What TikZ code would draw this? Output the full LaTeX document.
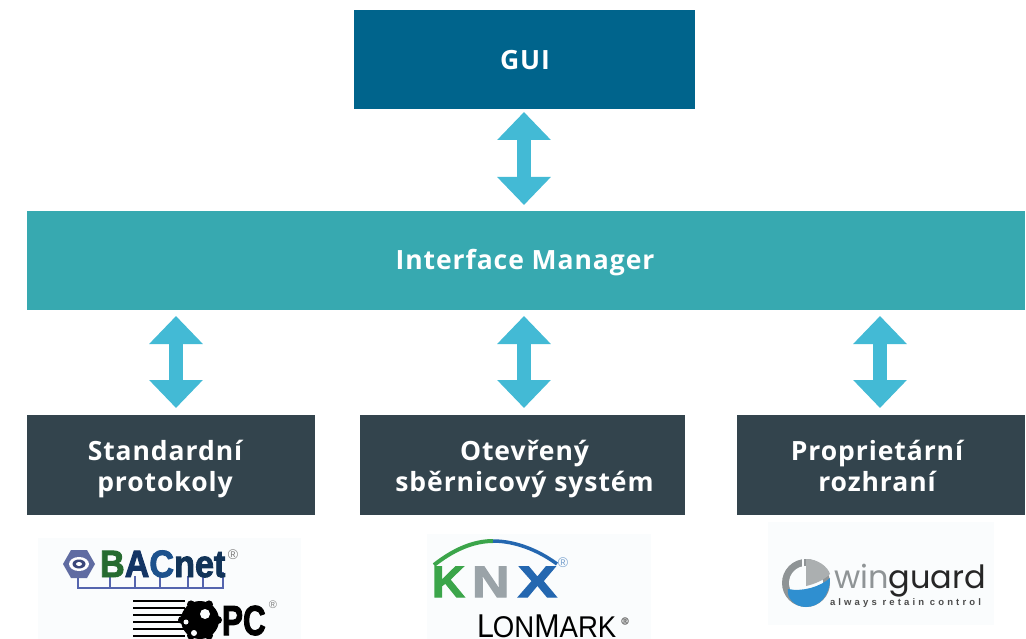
\documentclass[tikz,border=0pt]{standalone}
\usepackage{fontspec}
\setmainfont{Open Sans}
\newfontfamily\lbl[LetterSpace=3.5]{Open Sans}
\newfontfamily\logoa[BoldFeatures={FakeBold=2.5}]{Liberation Sans}
\newfontfamily\logob{Poppins}
\newfontfamily\logoc[LetterSpace=33]{Liberation Sans}
\usetikzlibrary{arrows.meta}
\definecolor{guiblue}{HTML}{00648C}
\definecolor{mgrteal}{HTML}{37A9B0}
\definecolor{slatebox}{HTML}{33444D}
\definecolor{arrowblue}{HTML}{43BAD5}
\definecolor{logobg}{HTML}{FAFCFD}
\definecolor{busblue}{HTML}{5565AE}
\definecolor{knxgreen}{HTML}{3BA54A}
\definecolor{knxgrey}{HTML}{9AA3A8}
\definecolor{knxblue}{HTML}{2467B0}
\definecolor{wgrey}{HTML}{8F9496}
\definecolor{wblue}{HTML}{2F8FD0}
\tikzset{
  x=1pt,y=-1pt,
  boxnode/.style={anchor=north west,inner sep=0pt,outer sep=0pt},
  boxtext/.style={inner sep=0pt,outer sep=0pt,text=white,align=center,
    font=\lbl\bfseries\fontsize{26.5}{31}\selectfont},
  dbl/.style={draw=arrowblue,line width=13.5pt,
    {Triangle[width=52pt,length=28pt,fill=arrowblue]}-{Triangle[width=52pt,length=28pt,fill=arrowblue]}},
  logopanel/.style={fill=logobg,draw=none},
  logotext/.style={inner sep=0pt,outer sep=0pt}
}
\begin{document}
\begin{tikzpicture}
\useasboundingbox (0,0) rectangle (1026,639);
\clip (0,0) rectangle (1026,639);
\fill[white] (0,0) rectangle (1026,639);
% boxes
\node[boxnode,fill=guiblue,minimum width=341pt,minimum height=99pt] (gui) at (354,10) {};
\node[boxnode,fill=mgrteal,minimum width=998pt,minimum height=99pt] (mgr) at (27,211) {};
\node[boxnode,fill=slatebox,minimum width=288pt,minimum height=100pt] (std) at (27,415) {};
\node[boxnode,fill=slatebox,minimum width=325pt,minimum height=100pt] (bus) at (360,415) {};
\node[boxnode,fill=slatebox,minimum width=288pt,minimum height=100pt] (prop) at (737,415) {};
\node[boxtext] (guit) at (525,60) {GUI};
\node[boxtext] (mgrt) at (525,263) {Interface Manager};
\node[boxtext] (stdt) at (165,469) {Standardní\\protokoly};
\node[boxtext] (bust) at (524.5,469) {Otevřený\\sběrnicový systém};
\node[boxtext] (propt) at (877,466) {Proprietární\\rozhraní};
% connectors
\coordinate (a1) at (524,112); \coordinate (a2) at (524,205);
\coordinate (b1) at (176,316); \coordinate (b2) at (176,408);
\coordinate (c1) at (524,316); \coordinate (c2) at (524,408);
\coordinate (d1) at (880,316); \coordinate (d2) at (880,408);
\draw[dbl] (a1) -- (a2);
\draw[dbl] (b1) -- (b2);
\draw[dbl] (c1) -- (c2);
\draw[dbl] (d1) -- (d2);
% logo panels
\fill[logopanel] (38,538) rectangle (301,639);
\fill[logopanel] (427,534) rectangle (651,639);
\fill[logopanel] (768,522) rectangle (994,625);
% BACnet
\draw[busblue,line width=1.8pt] (78,572) -- (78,588) -- (223,588) -- (223,572);
\foreach \xx in {110,135,160,188,203} \draw[busblue,line width=1.6pt] (\xx,576) -- (\xx,588);
\fill[busblue!75!gray] (63,564) -- (71,550) -- (87,550) -- (95,564) -- (87,578) -- (71,578) -- cycle;
\fill[white] (79,564) ellipse (10pt and 7pt);
\fill[busblue!70!black] (79,564) ellipse (6.5pt and 4.5pt);
\fill[white] (79,564) ellipse (3pt and 2pt);
\node[logotext,anchor=base west] (bacnet) at (100,577) {\logoa\bfseries\fontsize{38}{38}\selectfont\scalebox{0.9}[1]{%
  \textcolor{knxgreen!65!black}{B}\textcolor{knxgreen!45!black!70!blue}{A}\textcolor{knxblue!80!black}{C}\textcolor{knxblue!50!black}{net}}};
\node[logotext,text=gray] (bacr) at (233,555) {\logoa\fontsize{14}{14}\selectfont ®};
% OPC
\foreach \yy in {601,608,615,622,629,636} \draw[black,line width=2.6pt] (133,\yy) -- (185,\yy);
\foreach \aa in {0,60,...,300} \fill[black] (200,620) ++(\aa:18) circle (4pt);
\fill[black] (200,620) circle (19pt);
\fill[logobg] (205,614) circle (5pt);
\fill[logobg] (194,633) circle (3pt);
\fill[logobg] (186,622) circle (2.5pt);
\node[logotext,anchor=base west,text=black] (opc) at (222,635) {\logoa\bfseries\fontsize{42}{42}\selectfont\scalebox{0.75}[1]{PC}};
\node[logotext,text=gray] (opcr) at (273,605) {\logoa\fontsize{11}{11}\selectfont ®};
% KNX
\draw[knxgreen,line width=4pt] (434,565) .. controls (453,550) and (473,541) .. (493,541);
\draw[knxblue,line width=3.5pt] (493,541) .. controls (515,541) and (538,550) .. (557,564);
\node[logotext,anchor=base west,text=knxgreen] (knxk) at (432,597) {\logoa\bfseries\fontsize{44}{44}\selectfont\scalebox{1.03}[1]{K}};
\node[logotext,anchor=base west,text=knxgrey] (knxn) at (472,597) {\logoa\bfseries\fontsize{44}{44}\selectfont\scalebox{1.18}[1]{N}};
\node[logotext,anchor=base west,text=knxblue] (knxx) at (518,597) {\logoa\bfseries\fontsize{44}{44}\selectfont\scalebox{1.32}[1]{X}};
\node[logotext,text=knxblue!60] (knxr) at (563,563) {\logoa\fontsize{14}{14}\selectfont ®};
% LonMark
\node[logotext,anchor=base west,text=black] (lon) at (477,637) {\logoa\fontsize{33}{33}\selectfont\scalebox{0.92}[1]{L\kern-1pt{\fontsize{30}{30}\selectfont ON}M{\fontsize{30}{30}\selectfont ARK}}};
\node[logotext,text=gray] (lonr) at (625,621) {\logoa\bfseries\fontsize{10}{10}\selectfont ®};
% winguard
\fill[wgrey] (806,583) circle (24pt);
\fill[logobg] (806,583) circle (17pt);
\fill[wblue] (788,589) .. controls (802,592) and (820,587) .. (830,578) .. controls (830,595) and (820,607) .. (806,607) .. controls (795,607) and (786,598) .. (788,589) -- cycle;
\fill[wgrey!75] (806,559) .. controls (818,559) and (828,567) .. (830,574) .. controls (824,580) and (815,584) .. (806,586) -- cycle;
\draw[logobg,line width=2pt] (803,556) -- (803,588);
\node[logotext,anchor=base west] (wg) at (834,588) {\logob\fontsize{32}{32}\selectfont\textcolor{wgrey}{win}\textcolor{black!85}{guard}};
\node[logotext,anchor=base west,text=black!70] (wt) at (830,605) {\logoc\bfseries\fontsize{9.5}{10}\selectfont always retain control};
\end{tikzpicture}
\end{document}
